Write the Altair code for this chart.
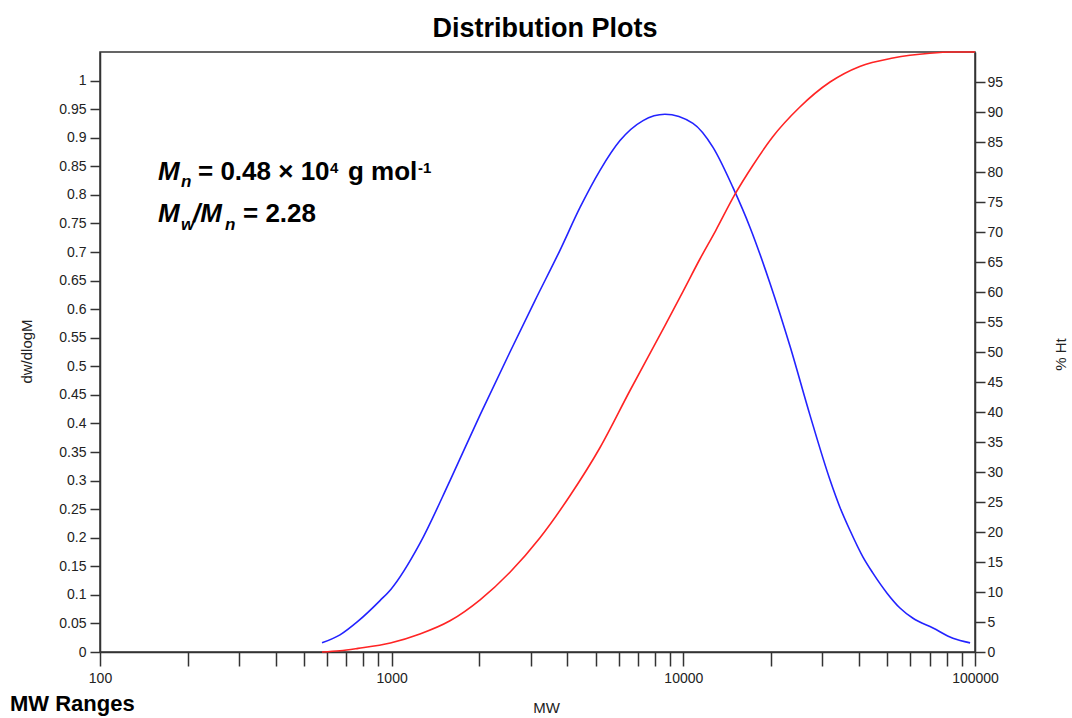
import altair as alt
import pandas as pd

FONT = "Liberation Sans"

# ---- data ----
mw_blue = [577, 665, 767, 912, 995, 1250, 1585, 2010, 2545, 3100, 3776, 4424, 5180, 6065, 7275,
           8650, 10790, 12640, 14790, 16930, 19830, 23220, 27160, 31840, 34444, 37260, 41305,
           44670, 49940, 55300, 61300, 71780, 84000, 96200]
dw_dlogm = [0.016, 0.030, 0.054, 0.090, 0.110, 0.190, 0.300, 0.415, 0.525, 0.615, 0.703, 0.778,
            0.843, 0.895, 0.930, 0.941, 0.925, 0.883, 0.813, 0.743, 0.645, 0.535, 0.415, 0.301,
            0.253, 0.213, 0.166, 0.138, 0.103, 0.077, 0.059, 0.042, 0.024, 0.016]
mw_red = [577, 665, 767, 990, 1250, 1585, 2010, 2545, 3220, 4080, 5170, 6550, 8650, 10000, 11400,
          12900, 15040, 17260, 20200, 25050, 31840, 40250, 52300, 70000, 83800, 100000]
pct_ht = [0, 0.2, 0.6, 1.5, 3.0, 5.2, 8.7, 13.3, 19, 26, 34, 43.5, 54.4, 60.2, 65.5, 70.2, 76.3,
          81.0, 85.8, 90.8, 95, 97.6, 99.0, 99.8, 100, 100]

x_ticks = [100, 200, 300, 400, 500, 600, 700, 800, 900,
           1000, 2000, 3000, 4000, 5000, 6000, 7000, 8000, 9000,
           10000, 20000, 30000, 40000, 50000, 60000, 70000, 80000, 90000, 100000]
x_labels = [100, 1000, 10000, 100000]
left_ticks = [round(i * 0.05, 2) for i in range(21)]
right_ticks = [i * 5 for i in range(20)]

title_text = "Distribution Plots"
corner_text = "MW Ranges"
ann_line1 = ["M", "n", "= 0.48 \u00d7 10", "4", "g mol", "-1"]
ann_line2 = ["M", "w", "/M", "n", "= 2.28"]

blue_df = pd.DataFrame({"mw": mw_blue, "val": dw_dlogm})
red_df = pd.DataFrame({"mw": mw_red, "pct": pct_ht})

AX = "#333333"

x_axis = alt.Axis(
    title="MW", values=x_ticks, format="d",
    labelExpr="indexof(%s, datum.value) >= 0 ? datum.label : ''" % str(x_labels),
    tickSize=14, tickColor=AX, tickWidth=1.5, domainColor=AX, domainWidth=1.5,
    labelFont=FONT, labelFontSize=14, labelColor="#222222", labelPadding=5,
    labelOverlap=False, labelFlush=False, grid=False,
    titleFont=FONT, titleFontSize=15, titleFontWeight="normal", titleColor="#222222",
    titleX=446, titleY=60, titleBaseline="alphabetic", titleAnchor=None,
)
x_enc = alt.X("mw:Q", scale=alt.Scale(type="log", domain=[100, 100000], nice=False), axis=x_axis)

blue = alt.Chart(blue_df).mark_line(color="#2323ff", strokeWidth=1.6, interpolate="monotone").encode(
    x=x_enc,
    y=alt.Y("val:Q", scale=alt.Scale(domain=[0, 1.05], nice=False, zero=True),
            axis=alt.Axis(title="dw/dlogM", orient="left", values=left_ticks, format=".2~f",
                          tickSize=10, tickColor=AX, tickWidth=1.5, domainColor=AX, domainWidth=1.5,
                          labelFont=FONT, labelFontSize=14, labelColor="#222222", labelPadding=4,
                          labelFlush=False, labelOverlap=False, grid=False,
                          titleFont=FONT, titleFontSize=15, titleFontWeight="normal",
                          titleColor="#222222", titleAngle=270, titleX=-74, titleY=299,
                          titleBaseline="middle", titleAlign="center")),
)

red = alt.Chart(red_df).mark_line(color="#ff2424", strokeWidth=1.6, interpolate="monotone").encode(
    x=x_enc,
    y=alt.Y("pct:Q", scale=alt.Scale(domain=[0, 100], nice=False),
            axis=alt.Axis(title="% Ht", orient="right", values=right_ticks, format="d",
                          tickSize=10, tickColor=AX, tickWidth=1.5, domainColor=AX, domainWidth=1.5,
                          labelFont=FONT, labelFontSize=14, labelColor="#222222", labelPadding=2,
                          labelFlush=False, labelOverlap=False, grid=False,
                          titleFont=FONT, titleFontSize=15, titleFontWeight="normal",
                          titleColor="#222222", titleAngle=270, titleX=85, titleY=302,
                          titleBaseline="middle", titleAlign="center")),
)


def label(text, x, y, size, weight="bold", style="normal", align="left"):
    return alt.Chart(alt.Data(values=[{}])).mark_text(
        text=text, font=FONT, fontSize=size, fontWeight=weight, fontStyle=style,
        align=align, baseline="alphabetic", color="black"
    ).encode(x=alt.value(x), y=alt.value(y))


texts = [
    label(title_text, 445, -15, 27, align="center"),
    label(corner_text, -90, 659, 22),
    # line 1
    label(ann_line1[0], 58, 128, 26, style="italic"),
    label(ann_line1[1], 81, 135, 17, style="italic"),
    label(ann_line1[2], 98, 128, 26),
    label(ann_line1[3], 230, 121, 15),
    label(ann_line1[4], 248, 128, 26),
    label(ann_line1[5], 318, 121, 15),
    # line 2
    label(ann_line2[0], 58, 170, 26, style="italic"),
    label(ann_line2[1], 81, 178, 17, style="italic"),
    label(ann_line2[2], 93, 170, 26, style="italic"),
    label(ann_line2[3], 125, 178, 17, style="italic"),
    label(ann_line2[4], 143, 170, 26),
]

chart = alt.layer(blue, red, *texts).resolve_scale(y="independent").properties(
    width=875, height=600,
    padding={"left": 100, "top": 52, "right": 97, "bottom": 66},
    autosize=alt.AutoSizeParams(type="none"),
    background="white",
).configure_view(stroke=AX, strokeWidth=1.5)

chart.save("out.html", embed_options={"renderer": "svg", "actions": False})
